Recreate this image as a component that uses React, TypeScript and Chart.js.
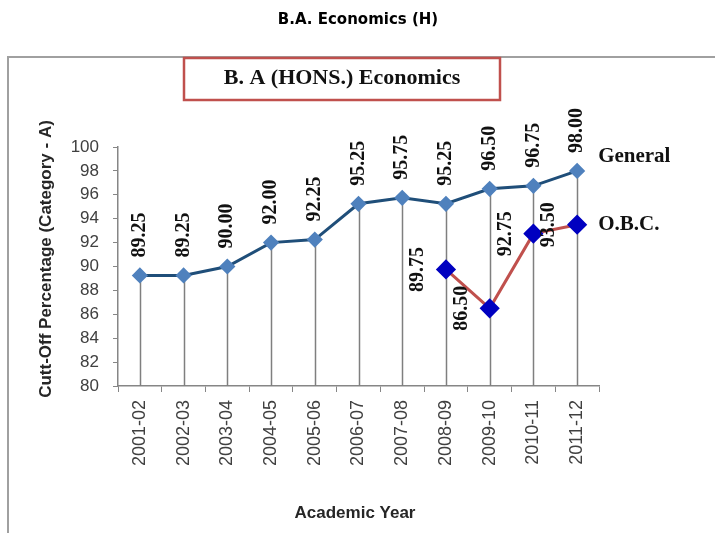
import React, { useEffect, useRef } from "react";
import { Chart, registerables } from "chart.js";

Chart.register(...registerables);

const years = ["2001-02", "2002-03", "2003-04", "2004-05", "2005-06", "2006-07", "2007-08", "2008-09", "2009-10", "2010-11", "2011-12"];
const generalValues = [89.25, 89.25, 90.0, 92.0, 92.25, 95.25, 95.75, 95.25, 96.5, 96.75, 98.0];
const obcValues: (number | null)[] = [null, null, null, null, null, null, null, 89.75, 86.5, 92.75, 93.5];
const yTicks = [80, 82, 84, 86, 88, 90, 92, 94, 96, 98, 100];

const pageTitle = "B.A. Economics (H)";
const chartTitle = "B. A (HONS.) Economics";
const yTitle = "Cutt-Off Percentage (Category - A)";
const xTitle = "Academic Year";
const seriesNames = ["General", "O.B.C."];

const W = 715;
const H = 533;

const decorPlugin = {
  id: "decor",
  beforeDraw(chart: any) {
    const ctx = chart.ctx;
    ctx.save();
    ctx.fillStyle = "#ffffff";
    ctx.fillRect(0, 0, W, H);
    // page title
    ctx.fillStyle = "#000000";
    ctx.font = "bold 15px 'DejaVu Sans'";
    ctx.textAlign = "center";
    ctx.textBaseline = "middle";
    ctx.fillText(pageTitle, 358, 20);
    // frame
    ctx.strokeStyle = "#a0a0a0";
    ctx.lineWidth = 2;
    ctx.beginPath();
    ctx.moveTo(8, H);
    ctx.lineTo(8, 57);
    ctx.lineTo(W, 57);
    ctx.stroke();
    // inner title box
    ctx.strokeStyle = "#c0504d";
    ctx.lineWidth = 2.5;
    ctx.strokeRect(184, 58, 316, 42);
    ctx.fillStyle = "#111111";
    ctx.font = "bold 22px 'Liberation Serif'";
    ctx.fillText(chartTitle, 342, 78);
    // axis titles
    ctx.fillStyle = "#262626";
    ctx.font = "bold 17px 'Liberation Sans'";
    ctx.save();
    ctx.translate(46, 259);
    ctx.rotate(-Math.PI / 2);
    ctx.fillText(yTitle, 0, 0);
    ctx.restore();
    ctx.font = "bold 17px 'Liberation Sans'";
    ctx.fillText(xTitle, 355, 513);
    ctx.restore();
  },
  beforeDatasetsDraw(chart: any) {
    const ctx = chart.ctx;
    const meta = chart.getDatasetMeta(0);
    const bottom = chart.chartArea.bottom;
    ctx.save();
    ctx.strokeStyle = "#7f7f7f";
    ctx.lineWidth = 1.5;
    meta.data.forEach((pt: any) => {
      ctx.beginPath();
      ctx.moveTo(Math.round(pt.x) + 0.5, pt.y);
      ctx.lineTo(Math.round(pt.x) + 0.5, bottom);
      ctx.stroke();
    });
    ctx.restore();
  },
  afterDatasetsDraw(chart: any) {
    const ctx = chart.ctx;
    ctx.save();
    ctx.fillStyle = "#111111";
    ctx.font = "bold 20px 'Liberation Serif'";
    ctx.textBaseline = "middle";
    const g = chart.getDatasetMeta(0);
    g.data.forEach((pt: any, i: number) => {
      ctx.save();
      ctx.translate(pt.x, pt.y - 18);
      ctx.rotate(-Math.PI / 2);
      ctx.textAlign = "left";
      ctx.fillText(generalValues[i].toFixed(2), 0, 0);
      ctx.restore();
    });
    const o = chart.getDatasetMeta(1);
    o.data.forEach((pt: any, i: number) => {
      const v = obcValues[i];
      if (v == null) return;
      ctx.save();
      ctx.translate(pt.x - 28, pt.y);
      ctx.rotate(-Math.PI / 2);
      ctx.textAlign = "center";
      ctx.fillText(v.toFixed(2), 0, 0);
      ctx.restore();
    });
    // series names
    ctx.font = "bold 21px 'Liberation Serif'";
    ctx.textAlign = "left";
    const gl = g.data[g.data.length - 1];
    const ol = o.data[o.data.length - 1];
    ctx.fillText(seriesNames[0], gl.x + 21, gl.y - 14);
    ctx.fillText(seriesNames[1], ol.x + 21, ol.y);
    ctx.restore();
  },
};

export default function App() {
  const ref = useRef<HTMLCanvasElement>(null);
  useEffect(() => {
    if (!ref.current) return;
    const chart = new Chart(ref.current, {
      type: "line",
      data: {
        labels: years,
        datasets: [
          {
            label: seriesNames[0],
            data: generalValues,
            borderColor: "#1f4e79",
            borderWidth: 3,
            pointStyle: "rectRot",
            pointRadius: 6,
            pointBackgroundColor: "#4f81bd",
            pointBorderColor: "#4f81bd",
            tension: 0,
          },
          {
            label: seriesNames[1],
            data: obcValues,
            borderColor: "#c0504d",
            borderWidth: 3,
            pointStyle: "rectRot",
            pointRadius: 8,
            pointBackgroundColor: "#0000c0",
            pointBorderColor: "#0000c0",
            tension: 0,
            spanGaps: false,
          },
        ],
      },
      options: {
        responsive: false,
        animation: false,
        events: [],
        layout: { padding: { left: 0, top: 147, right: 116, bottom: 0 } },
        plugins: { legend: { display: false }, title: { display: false }, tooltip: { enabled: false } },
        scales: {
          x: {
            type: "category",
            offset: true,
            afterFit: (s: any) => {
              s.height = 147;
            },
            grid: {
              display: true,
              offset: true,
              drawOnChartArea: false,
              drawTicks: true,
              tickLength: 6,
              color: "#868686",
            },
            border: { display: true, color: "#868686", width: 1.5 },
            ticks: {
              autoSkip: false,
              minRotation: 90,
              maxRotation: 90,
              padding: 8,
              color: "#404040",
              font: { family: "'Liberation Sans'", size: 18 },
            },
          },
          y: {
            min: 80,
            max: 100,
            afterFit: (s: any) => {
              s.width = 118;
            },
            afterBuildTicks: (s: any) => {
              s.ticks = yTicks.map((v) => ({ value: v }));
            },
            grid: {
              display: true,
              drawOnChartArea: false,
              drawTicks: true,
              tickLength: 5,
              color: "#868686",
            },
            border: { display: true, color: "#868686", width: 1.5 },
            ticks: {
              autoSkip: false,
              padding: 14,
              color: "#404040",
              font: { family: "'Liberation Sans'", size: 17 },
            },
          },
        },
      },
      plugins: [decorPlugin],
    });
    return () => chart.destroy();
  }, []);
  return (
    <div style={{ position: "absolute", left: 0, top: 0, width: W, height: H }}>
      <canvas ref={ref} width={W} height={H} style={{ display: "block", width: W, height: H }} />
    </div>
  );
}
